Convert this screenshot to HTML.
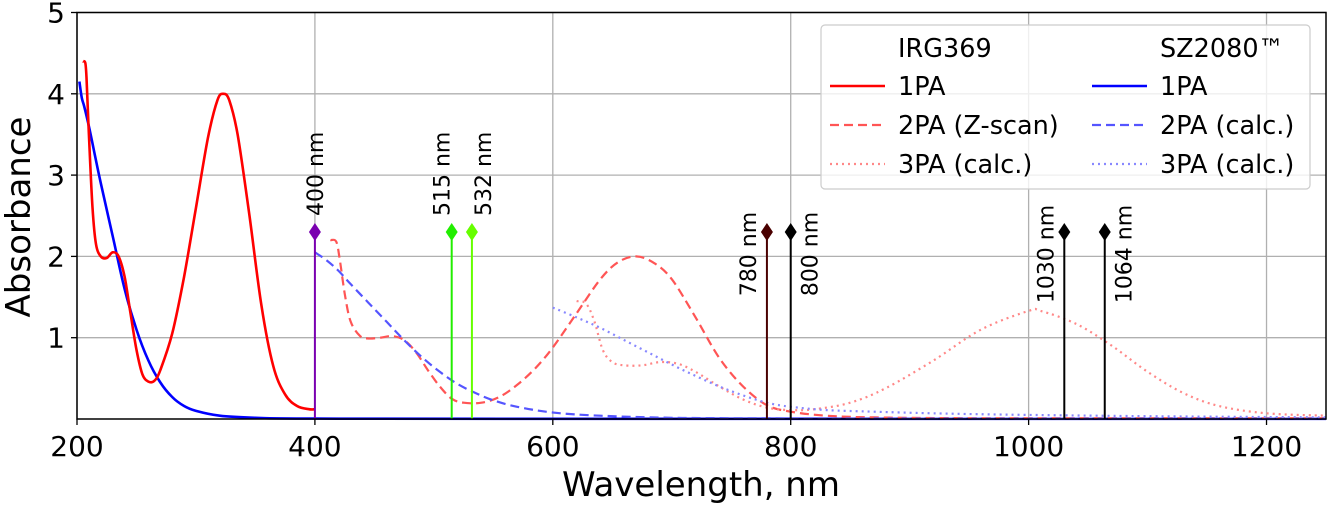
<!DOCTYPE html>
<html><head><meta charset="utf-8"><style>
html,body{margin:0;padding:0;background:#fff;}
svg{display:block;font-family:"DejaVu Sans","Liberation Sans",sans-serif;}
</style></head><body>
<svg id="chart" width="1328" height="505" viewBox="0 0 1328 505" xmlns="http://www.w3.org/2000/svg">
<g id="grid"></g>
<g id="series"></g>
<g id="marks"></g>
<g id="axes"></g>
<text x="701" y="496" font-size="34" text-anchor="middle">Wavelength, nm</text>
<text transform="translate(30,217) rotate(-90)" font-size="34" text-anchor="middle">Absorbance</text>
<g>
<rect x="821" y="25" width="489" height="164" rx="4" fill="#fff" fill-opacity="0.8" stroke="#ccc" stroke-width="1.2"/>
<text x="898" y="57" font-size="25.5">IRG369</text>
<text x="1160" y="57" font-size="25.5">SZ2080™</text>
<g><line x1="830" y1="86" x2="885" y2="86" stroke="#ff0000" stroke-width="2.5"/><text x="898" y="95" font-size="25.5">1PA</text></g>
<g><line x1="830" y1="125" x2="885" y2="125" stroke="#ff5555" stroke-width="2.2" stroke-dasharray="9,5"/><text x="898" y="134" font-size="25.5">2PA (Z-scan)</text></g>
<g><line x1="830" y1="164" x2="885" y2="164" stroke="#ff8888" stroke-width="2.2" stroke-dasharray="2,4"/><text x="898" y="173" font-size="25.5">3PA (calc.)</text></g>
<g><line x1="1092" y1="86" x2="1147" y2="86" stroke="#0000ff" stroke-width="2.5"/><text x="1160" y="95" font-size="25.5">1PA</text></g>
<g><line x1="1092" y1="125" x2="1147" y2="125" stroke="#5555ff" stroke-width="2.2" stroke-dasharray="9,5"/><text x="1160" y="134" font-size="25.5">2PA (calc.)</text></g>
<g><line x1="1092" y1="164" x2="1147" y2="164" stroke="#8888ff" stroke-width="2.2" stroke-dasharray="2,4"/><text x="1160" y="173" font-size="25.5">3PA (calc.)</text></g>
</g>
</svg>
<script>
const xTicks=[200,400,600,800,1000,1200];
const yTicks=[1,2,3,4,5];
const irg1paX=[205,207,208,210,213,216,220,225,230,235,240,245,250,255,260,265,270,280,290,300,310,318,323,328,335,345,355,365,375,385,395,400];
const irg1paY=[4.4,4.38,4.2,3.5,2.6,2.15,2.0,1.98,2.05,2.0,1.75,1.3,0.85,0.55,0.46,0.47,0.6,1.05,1.75,2.6,3.45,3.92,4.0,3.92,3.5,2.5,1.4,0.65,0.3,0.16,0.12,0.12];
const sz1paX=[202,204,206,210,215,220,230,240,250,260,270,280,290,300,320,350,400,600,1250];
const sz1paY=[4.15,3.95,3.85,3.6,3.25,2.9,2.25,1.6,1.1,0.72,0.45,0.27,0.16,0.1,0.04,0.015,0.005,0.003,0.002];
const irg2paX=[413,418,421,425,430,438,445,455,465,475,485,495,505,515,525,540,555,570,585,600,620,640,655,670,685,700,720,740,760,780,800,830,870,950,1100,1250];
const irg2paY=[2.2,2.18,1.95,1.55,1.2,1.02,0.99,1.0,1.02,0.97,0.82,0.6,0.4,0.25,0.2,0.2,0.27,0.42,0.62,0.88,1.3,1.72,1.93,2.0,1.92,1.72,1.25,0.75,0.4,0.17,0.09,0.04,0.02,0.01,0.01,0.01];
const irg3paX=[620,628,635,642,650,660,675,690,705,720,740,760,780,800,820,850,880,920,960,1000,1010,1040,1070,1100,1130,1160,1200,1250];
const irg3paY=[1.45,1.42,1.2,0.85,0.7,0.66,0.66,0.7,0.68,0.58,0.4,0.24,0.14,0.11,0.12,0.2,0.38,0.72,1.1,1.33,1.33,1.17,0.9,0.58,0.32,0.16,0.07,0.04];
const sz2paX=[400,410,420,430,445,460,475,490,505,520,535,550,570,600,640,700,800,1000,1250];
const sz2paY=[2.05,1.95,1.82,1.66,1.43,1.2,0.97,0.76,0.58,0.43,0.32,0.23,0.15,0.08,0.04,0.015,0.008,0.005,0.005];
const sz3paX=[600,620,640,660,680,700,720,740,760,780,800,830,870,920,1000,1100,1250];
const sz3paY=[1.37,1.25,1.12,0.97,0.82,0.67,0.53,0.4,0.29,0.2,0.15,0.11,0.09,0.07,0.05,0.035,0.02];
const markerNm=[400,515,532,780,800,1030,1064];
const markerLabels=["400 nm","515 nm","532 nm","780 nm","800 nm","1030 nm","1064 nm"];
const markerColors=["#7a00b0","#22ee00","#66ff00","#4a0000","#000000","#000000","#000000"];
const markerLabelPos=["top","top-left","top-right","left","right","left","right"];
const markerY=2.3;

const X0=200,X1=1250,PX0=77,PX1=1326,Y0=0,Y1=5,PY0=419,PY1=12.5;
const sx=v=>PX0+(v-X0)*(PX1-PX0)/(X1-X0);
const sy=v=>PY0+(v-Y0)*(PY1-PY0)/(Y1-Y0);
const NS="http://www.w3.org/2000/svg";
function mk(tag,parent,attrs){const e=document.createElementNS(NS,tag);for(const k in attrs)e.setAttribute(k,attrs[k]);parent.appendChild(e);return e;}
const grid=document.getElementById('grid'),axes=document.getElementById('axes'),series=document.getElementById('series'),marks=document.getElementById('marks');
xTicks.forEach(t=>{
  const g=mk('line',grid,{x1:sx(t),x2:sx(t),y1:PY1,y2:PY0,stroke:'#b0b0b0','stroke-width':1.3});
  
  
  const tk=mk('line',axes,{x1:sx(t),x2:sx(t),y1:PY0,y2:PY0+6,stroke:'#000','stroke-width':1.3});
  
  
  const tx=mk('text',axes,{x:sx(t),y:PY0+37,'font-size':28,'text-anchor':'middle'});
  tx.textContent=t;
  
  
});
yTicks.forEach(t=>{
  const g=mk('line',grid,{x1:PX0,x2:PX1,y1:sy(t),y2:sy(t),stroke:'#b0b0b0','stroke-width':1.3});
  
  
  const tk=mk('line',axes,{x1:PX0-6,x2:PX0,y1:sy(t),y2:sy(t),stroke:'#000','stroke-width':1.3});
  
  
  const tx=mk('text',axes,{x:PX0-12,y:sy(t)+10,'font-size':28,'text-anchor':'end'});
  tx.textContent=t;
  
  
});
const frame=mk('rect',axes,{x:PX0,y:PY1,width:PX1-PX0,height:PY0-PY1,fill:'none',stroke:'#000','stroke-width':1.5});


function smoothPath(xs,ys){
  const P=xs.map((x,i)=>[sx(x),sy(ys[i])]);
  let d='M'+P[0][0].toFixed(1)+','+P[0][1].toFixed(1);
  for(let i=0;i<P.length-1;i++){
    const p0=P[Math.max(0,i-1)],p1=P[i],p2=P[i+1],p3=P[Math.min(P.length-1,i+2)];
    const c1=[p1[0]+(p2[0]-p0[0])/6,p1[1]+(p2[1]-p0[1])/6];
    const c2=[p2[0]-(p3[0]-p1[0])/6,p2[1]-(p3[1]-p1[1])/6];
    d+='C'+c1[0].toFixed(1)+','+c1[1].toFixed(1)+' '+c2[0].toFixed(1)+','+c2[1].toFixed(1)+' '+p2[0].toFixed(1)+','+p2[1].toFixed(1);
  }
  return d;
}
function line(xs,ys,color,dash,name,w){
  const p=mk('path',series,{d:smoothPath(xs,ys),fill:'none',stroke:color,'stroke-width':w||2.2,'stroke-dasharray':dash,'stroke-linejoin':'round'});
  
  
}
line(sz1paX,sz1paY,'#0000ff','none','sz2080-1pa-line',2.6);
line(irg1paX,irg1paY,'#ff0000','none','irg369-1pa-line',2.6);
line(irg2paX,irg2paY,'#ff5555','9,5','irg369-2pa-line');
line(irg3paX,irg3paY,'#ff8888','2,4','irg369-3pa-line');
line(sz2paX,sz2paY,'#5555ff','9,5','sz2080-2pa-line');
line(sz3paX,sz3paY,'#8888ff','2,4','sz2080-3pa-line');
markerNm.forEach((nm,i)=>{
  const x=sx(nm),y=sy(markerY),c=markerColors[i];
  const l=mk('line',marks,{x1:x,x2:x,y1:PY0,y2:y,stroke:c,'stroke-width':2});
  
  
  const dm=mk('path',marks,{d:`M${x},${y-9}L${x+6},${y}L${x},${y+9}L${x-6},${y}Z`,fill:c});
  
  
  let tx,ty,anchor;
  const pos=markerLabelPos[i];
  if(pos==='top'){tx=x+8;ty=y-16;anchor='start';}
  else if(pos==='top-left'){tx=x-2;ty=y-16;anchor='start';}
  else if(pos==='top-right'){tx=x+19;ty=y-16;anchor='start';}
  else if(pos==='left'){tx=x-11;ty=y+22;anchor='middle';}
  else{tx=x+27;ty=y+22;anchor='middle';}
  const t=mk('text',marks,{transform:`translate(${tx},${ty}) rotate(-90)`,'font-size':22,'text-anchor':anchor});
  t.textContent=markerLabels[i];
  
  
});
</script>
</body></html>
